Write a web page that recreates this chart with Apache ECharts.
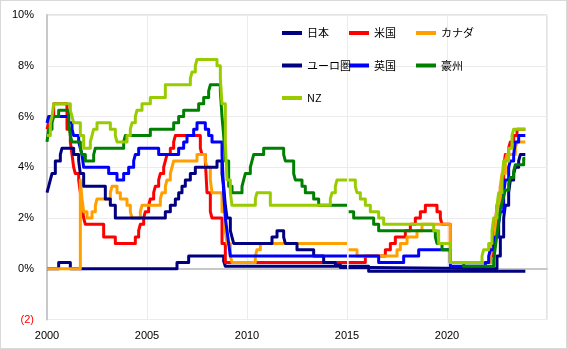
<!DOCTYPE html>
<html>
<head>
<meta charset="utf-8">
<script src="https://cdn.jsdelivr.net/npm/echarts@6/dist/echarts.min.js"></script>
<style>
  html, body { margin: 0; padding: 0; background: #fff; }
  #chart { width: 567px; height: 349px; box-sizing: border-box; border: 1px solid #d9d9d9; }
</style>
</head>
<body>
<div id="chart"></div>
<script>
// Policy rates by month ['YYYY-MM', %]; a null row marks a month without data.
const japan = [['2000-01',0],['2000-08',0.25],['2001-03',0],['2006-07',0.25],['2007-02',0.5],['2008-11',0.3],['2008-12',0.1],['2014-11',0.1],['2015-01',null],['2015-02',0.1],['2016-02',-0.1],['2023-12',-0.1]];

const usa = [['2000-01',5.5],['2000-02',5.75],['2000-03',6.0],['2000-05',6.5],['2001-01',5.5],['2001-03',5.0],['2001-04',4.5],['2001-05',4.0],['2001-06',3.75],['2001-08',3.5],['2001-09',3.0],['2001-10',2.5],['2001-11',2.0],['2001-12',1.75],['2002-11',1.25],['2003-06',1.0],['2004-06',1.25],['2004-08',1.5],['2004-09',1.75],['2004-11',2.0],['2004-12',2.25],['2005-02',2.5],['2005-03',2.75],['2005-05',3.0],['2005-06',3.25],['2005-08',3.5],['2005-09',3.75],['2005-11',4.0],['2005-12',4.25],['2006-01',4.5],['2006-03',4.75],['2006-05',5.0],['2006-06',5.25],['2007-09',4.75],['2007-10',4.5],['2007-12',4.25],['2008-01',3.0],['2008-03',2.25],['2008-04',2.0],['2008-10',1.0],['2008-12',0.25],['2014-11',0.25],['2015-01',null],['2015-02',0.25],['2015-12',0.5],['2016-12',0.75],['2017-03',1.0],['2017-06',1.25],['2017-12',1.5],['2018-03',1.75],['2018-06',2.0],['2018-09',2.25],['2018-12',2.5],['2019-07',2.25],['2019-09',2.0],['2019-10',1.75],['2020-03',0.25],['2022-03',0.5],['2022-05',1.0],['2022-06',1.75],['2022-07',2.5],['2022-09',3.25],['2022-11',4.0],['2022-12',4.5],['2023-02',4.75],['2023-03',5.0],['2023-05',5.25],['2023-07',5.5],['2023-12',5.5]];

const canada = [['2000-01',0],['2001-09',3.5],['2001-10',2.75],['2001-11',2.25],['2002-01',2.0],['2002-04',2.25],['2002-06',2.5],['2002-07',2.75],['2003-03',3.0],['2003-04',3.25],['2003-07',3.0],['2003-09',2.75],['2004-01',2.5],['2004-03',2.25],['2004-04',2.0],['2004-09',2.25],['2004-10',2.5],['2005-09',2.75],['2005-10',3.0],['2005-12',3.25],['2006-01',3.5],['2006-03',3.75],['2006-04',4.0],['2006-05',4.25],['2007-07',4.5],['2007-12',4.25],['2008-01',4.0],['2008-03',3.5],['2008-04',3.0],['2008-10',2.25],['2008-12',1.5],['2009-01',1.0],['2009-03',0.5],['2009-04',0.25],['2010-06',0.5],['2010-07',0.75],['2010-09',1.0],['2014-11',1.0],['2015-01',null],['2015-02',0.75],['2015-07',0.5],['2017-07',0.75],['2017-09',1.0],['2018-01',1.25],['2018-07',1.5],['2018-10',1.75],['2020-03',0.25],['2022-03',0.5],['2022-04',1.0],['2022-06',1.5],['2022-07',2.5],['2022-09',3.25],['2022-10',3.75],['2022-12',4.25],['2023-01',4.5],['2023-06',4.75],['2023-07',5.0],['2023-12',5.0]];

const euro = [['2000-01',3.0],['2000-02',3.25],['2000-03',3.5],['2000-04',3.75],['2000-06',4.25],['2000-09',4.5],['2000-10',4.75],['2001-05',4.5],['2001-08',4.25],['2001-09',3.75],['2001-11',3.25],['2002-12',2.75],['2003-03',2.5],['2003-06',2.0],['2005-12',2.25],['2006-03',2.5],['2006-06',2.75],['2006-08',3.0],['2006-10',3.25],['2006-12',3.5],['2007-03',3.75],['2007-06',4.0],['2008-07',4.25],['2008-10',3.75],['2008-11',3.25],['2008-12',2.5],['2009-01',2.0],['2009-03',1.5],['2009-04',1.25],['2009-05',1.0],['2011-04',1.25],['2011-07',1.5],['2011-11',1.25],['2011-12',1.0],['2012-07',0.75],['2013-05',0.5],['2013-11',0.25],['2014-06',0.15],['2014-09',0.05],['2014-11',0.05],['2015-01',null],['2015-02',0.05],['2016-03',0.0],['2022-07',0.5],['2022-09',1.25],['2022-11',2.0],['2022-12',2.5],['2023-02',3.0],['2023-03',3.5],['2023-05',3.75],['2023-06',4.0],['2023-08',4.25],['2023-09',4.5],['2023-12',4.5]];

const uk = [['2000-01',5.75],['2000-02',6.0],['2001-02',5.75],['2001-04',5.5],['2001-05',5.25],['2001-08',5.0],['2001-09',4.75],['2001-10',4.5],['2001-11',4.0],['2003-02',3.75],['2003-07',3.5],['2003-11',3.75],['2004-02',4.0],['2004-05',4.25],['2004-06',4.5],['2004-08',4.75],['2005-08',4.5],['2006-08',4.75],['2006-11',5.0],['2007-01',5.25],['2007-05',5.5],['2007-07',5.75],['2007-12',5.5],['2008-02',5.25],['2008-04',5.0],['2008-10',4.5],['2008-11',3.0],['2008-12',2.0],['2009-01',1.5],['2009-02',1.0],['2009-03',0.5],['2014-11',0.5],['2015-01',null],['2015-02',0.5],['2016-08',0.25],['2017-11',0.5],['2018-08',0.75],['2020-03',0.1],['2021-12',0.25],['2022-02',0.5],['2022-03',0.75],['2022-05',1.0],['2022-06',1.25],['2022-08',1.75],['2022-09',2.25],['2022-11',3.0],['2022-12',3.5],['2023-02',4.0],['2023-03',4.25],['2023-05',4.5],['2023-06',5.0],['2023-08',5.25],['2023-12',5.25]];

const australia = [['2000-01',5.0],['2000-02',5.5],['2000-04',5.75],['2000-05',6.0],['2000-08',6.25],['2001-02',5.75],['2001-03',5.25],['2001-04',5.0],['2001-09',4.75],['2001-10',4.5],['2001-12',4.25],['2002-05',4.5],['2002-06',4.75],['2003-11',5.0],['2003-12',5.25],['2005-03',5.5],['2006-05',5.75],['2006-08',6.0],['2006-11',6.25],['2007-08',6.5],['2007-11',6.75],['2008-02',7.0],['2008-03',7.25],['2008-09',7.0],['2008-10',6.0],['2008-11',5.25],['2008-12',4.25],['2009-02',3.25],['2009-04',3.0],['2009-10',3.25],['2009-11',3.5],['2009-12',3.75],['2010-03',4.0],['2010-04',4.25],['2010-05',4.5],['2010-11',4.75],['2011-11',4.5],['2011-12',4.25],['2012-05',3.75],['2012-06',3.5],['2012-10',3.25],['2012-12',3.0],['2013-05',2.75],['2013-08',2.5],['2014-11',2.5],['2015-01',null],['2015-02',2.25],['2015-05',2.0],['2016-05',1.75],['2016-08',1.5],['2019-06',1.25],['2019-07',1.0],['2019-10',0.75],['2020-03',0.25],['2020-11',0.1],['2022-05',0.35],['2022-06',0.85],['2022-07',1.35],['2022-08',1.85],['2022-09',2.35],['2022-10',2.6],['2022-11',2.85],['2022-12',3.1],['2023-02',3.35],['2023-03',3.6],['2023-05',3.85],['2023-06',4.1],['2023-11',4.35],['2023-12',4.35]];

const newZealand = [['2000-01',5.25],['2000-03',5.75],['2000-04',6.0],['2000-05',6.5],['2001-03',6.25],['2001-04',6.0],['2001-05',5.75],['2001-09',5.25],['2001-11',4.75],['2002-03',5.0],['2002-04',5.25],['2002-05',5.5],['2002-07',5.75],['2003-03',5.5],['2003-06',5.25],['2003-07',5.0],['2004-01',5.25],['2004-03',5.5],['2004-04',5.75],['2004-06',6.0],['2004-07',6.25],['2004-10',6.5],['2005-03',6.75],['2005-12',7.25],['2007-03',7.5],['2007-04',7.75],['2007-06',8.0],['2007-07',8.25],['2008-07',8.0],['2008-09',7.5],['2008-10',6.5],['2008-12',5.0],['2009-01',3.5],['2009-03',3.0],['2009-04',2.5],['2010-06',2.75],['2010-07',3.0],['2011-03',2.5],['2014-03',2.75],['2014-04',3.0],['2014-06',3.25],['2014-07',3.5],['2014-11',3.5],['2015-01',null],['2015-02',3.5],['2015-06',3.25],['2015-07',3.0],['2015-09',2.75],['2015-12',2.5],['2016-03',2.25],['2016-08',2.0],['2016-11',1.75],['2019-05',1.5],['2019-08',1.0],['2020-03',0.25],['2021-10',0.5],['2021-11',0.75],['2022-02',1.0],['2022-04',1.5],['2022-05',2.0],['2022-07',2.5],['2022-08',3.0],['2022-10',3.5],['2022-11',4.25],['2023-02',4.75],['2023-04',5.25],['2023-05',5.5],['2023-12',5.5]];

const seriesNames = ['日本', '米国', 'カナダ', 'ユーロ圏', '英国', '豪州', 'NZ'];
const seriesRows = [japan, usa, canada, euro, uk, australia, newZealand];
const seriesColors = ['#000080', '#ff0000', '#ffa000', '#000080', '#0000ff', '#008000', '#99cc00'];

// Year axis runs 2000–2025, rate axis -2%..10%
const yearTicks = [2000, 2005, 2010, 2015, 2020, 2025];
const rateTicks = [-2, 0, 2, 4, 6, 8, 10];

function monthToYear(s) {
  const parts = s.split('-');
  return Number(parts[0]) + (Number(parts[1]) - 1) / 12;
}

const chart = echarts.init(document.getElementById('chart'), null, { renderer: 'canvas' });

const legendCommon = {
  orient: 'vertical',
  icon: 'rect',
  itemWidth: 20,
  itemHeight: 4,
  itemGap: 18.5,
  padding: 0,
  selectedMode: false,
  textStyle: { fontFamily: 'Noto Sans CJK JP', fontSize: 11, color: '#000', lineHeight: 14 }
};

chart.setOption({
  animation: false,
  backgroundColor: '#fff',
  grid: { left: 46, right: 19, top: 14, bottom: 28.5, show: true, borderColor: '#c8c8c8', borderWidth: 1, outerBoundsMode: 'none' },
  legend: [
    Object.assign({}, legendCommon, { left: 281, top: 25, data: ['日本', 'ユーロ圏', 'NZ'] }),
    Object.assign({}, legendCommon, { left: 348, top: 25, data: ['米国', '英国'] }),
    Object.assign({}, legendCommon, { left: 415, top: 25, data: ['カナダ', '豪州'] })
  ],
  xAxis: {
    type: 'value',
    min: yearTicks[0],
    max: yearTicks[yearTicks.length - 1],
    interval: 5,
    axisLine: { show: true, lineStyle: { color: '#c8c8c8', width: 2 } },
    axisTick: { show: false },
    splitLine: { show: true, lineStyle: { color: '#ececec', width: 1 } },
    axisLabel: {
      margin: 11,
      fontFamily: 'Liberation Sans',
      fontSize: 11,
      color: '#000',
      showMaxLabel: true,
      formatter: function (v) { return v === yearTicks[yearTicks.length - 1] ? '' : String(v); }
    }
  },
  yAxis: {
    type: 'value',
    min: rateTicks[0],
    max: rateTicks[rateTicks.length - 1],
    interval: 2,
    axisLine: { show: true, lineStyle: { color: '#c8c8c8', width: 2 } },
    axisTick: { show: false },
    splitLine: { show: true, lineStyle: { color: '#ececec', width: 1 } },
    axisLabel: {
      margin: 13,
      fontFamily: 'Liberation Sans',
      fontSize: 11,
      color: function (v) { return Number(v) < 0 ? '#ff0000' : '#000'; },
      formatter: function (v) { return v < 0 ? '(' + (-v) + ')' : v + '%'; }
    }
  },
  series: seriesNames.map(function (name, i) {
    return {
      name: name,
      type: 'line',
      step: 'end',
      showSymbol: false,
      symbol: 'none',
      connectNulls: false,
      color: seriesColors[i],
      lineStyle: { width: 3, color: seriesColors[i], join: 'round' },
      data: seriesRows[i].map(function (r) { return [monthToYear(r[0]), r[1]]; })
    };
  })
});
</script>
</body>
</html>
